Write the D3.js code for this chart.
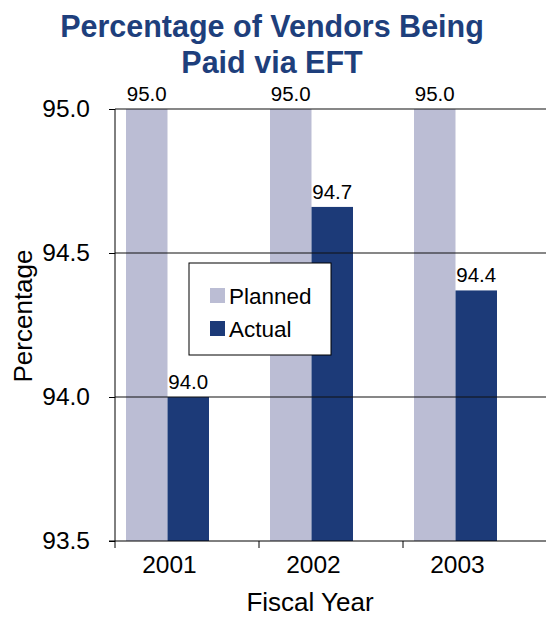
<!DOCTYPE html>
<html>
<head>
<meta charset="utf-8">
<script src="https://cdn.jsdelivr.net/npm/d3@7"></script>
<style>
  body { margin: 0; background: #fff; }
  text { font-family: "Liberation Sans", Arial, Helvetica, sans-serif; }
</style>
</head>
<body>
<div id="chart"></div>
<script>
var years = ["2001", "2002", "2003"];
var seriesNames = ["Planned", "Actual"];
var planned = [95.0, 95.0, 95.0];
var actual = [94.0, 94.66, 94.37];
var yTicks = [93.5, 94.0, 94.5, 95.0];

var width = 546,
    height = 619,
    colors = {Planned: "#bbbdd4", Actual: "#1c3a78"};

var svg = d3.select("#chart").append("svg")
    .attr("width", width)
    .attr("height", height);

var x = d3.scaleBand().domain(years).range([115, 547]);
var xInner = d3.scaleBand().domain(seriesNames).range([11, 94]);
var y = d3.scaleLinear().domain([93.5, 95.0]).range([541, 109]);

var rows = years.map(function(yr, i) {
    return {year: yr, Planned: planned[i], Actual: actual[i]};
});

// title
svg.append("text")
    .attr("x", 272).attr("y", 37)
    .attr("text-anchor", "middle")
    .style("font-size", "30.5px").style("font-weight", "bold")
    .style("fill", "#1e3f7c")
    .text("Percentage of Vendors Being");
svg.append("text")
    .attr("x", 272).attr("y", 73)
    .attr("text-anchor", "middle")
    .style("font-size", "30.5px").style("font-weight", "bold")
    .style("fill", "#1e3f7c")
    .text("Paid via EFT");

// bars
var groups = svg.append("g").selectAll("g")
    .data(rows).enter().append("g")
    .attr("transform", function(d) { return "translate(" + x(d.year) + ",0)"; });

groups.selectAll("rect")
    .data(function(d) { return seriesNames.map(function(s) { return {key: s, value: d[s]}; }); })
    .enter().append("rect")
    .attr("x", function(d) { return xInner(d.key); })
    .attr("width", xInner.bandwidth())
    .attr("y", function(d) { return y(d.value); })
    .attr("height", function(d) { return y(93.5) - y(d.value); })
    .attr("fill", function(d) { return colors[d.key]; });

groups.selectAll("text.val")
    .data(function(d) { return seriesNames.map(function(s) { return {key: s, value: d[s]}; }); })
    .enter().append("text")
    .attr("class", "val")
    .attr("x", function(d) { return xInner(d.key) + xInner.bandwidth() / 2; })
    .attr("y", function(d) { return y(d.value) - 8; })
    .attr("text-anchor", "middle")
    .style("font-size", "20.5px")
    .text(function(d) { return d3.format(".1f")(d.value); });

// gridlines
svg.append("g").selectAll("line")
    .data(yTicks.filter(function(t) { return t > 93.5; }))
    .enter().append("line")
    .attr("x1", 115).attr("x2", width)
    .attr("y1", function(d) { return y(d); })
    .attr("y2", function(d) { return y(d); })
    .attr("stroke", "#111")
    .attr("stroke-width", 1.2);

// y axis
var yAxis = svg.append("g")
    .attr("transform", "translate(115,0)")
    .call(d3.axisLeft(y).tickValues(yTicks).tickFormat(d3.format(".1f")).tickSize(6).tickPadding(19));
yAxis.select(".domain").attr("stroke", "#000").attr("d", "M0," + y(95.0) + "V" + y(93.5));
yAxis.selectAll("text").style("font-size", "24.5px").attr("fill", "#000");

// x axis
var xAxis = svg.append("g")
    .attr("transform", "translate(0,541)");
xAxis.append("line")
    .attr("x1", 109).attr("x2", width)
    .attr("stroke", "#000");
xAxis.selectAll("line.tick")
    .data(years).enter().append("line")
    .attr("class", "tick")
    .attr("x1", function(d) { return x(d); })
    .attr("x2", function(d) { return x(d); })
    .attr("y1", 0).attr("y2", 7)
    .attr("stroke", "#000");
xAxis.selectAll("text")
    .data(years).enter().append("text")
    .attr("x", function(d) { return x(d) + xInner(seriesNames[1]) + 2; })
    .attr("y", 32)
    .attr("text-anchor", "middle")
    .style("font-size", "24.5px")
    .text(function(d) { return d; });

// axis titles
svg.append("text")
    .attr("transform", "translate(32,316) rotate(-90)")
    .attr("text-anchor", "middle")
    .style("font-size", "26px")
    .text("Percentage");
svg.append("text")
    .attr("x", 310).attr("y", 611)
    .attr("text-anchor", "middle")
    .style("font-size", "26px")
    .text("Fiscal Year");

// legend
var legend = svg.append("g").attr("transform", "translate(189,263)");
legend.append("rect")
    .attr("width", 142).attr("height", 92)
    .attr("fill", "#fff").attr("stroke", "#000").attr("stroke-width", 1);
var items = legend.selectAll("g.item")
    .data(seriesNames).enter().append("g")
    .attr("class", "item")
    .attr("transform", function(d, i) { return "translate(21," + (25 + i * 33) + ")"; });
items.append("rect")
    .attr("width", 15).attr("height", 15)
    .attr("fill", function(d) { return colors[d]; });
items.append("text")
    .attr("x", 19).attr("y", 16)
    .style("font-size", "22.5px")
    .text(function(d) { return d; });
</script>
</body>
</html>
